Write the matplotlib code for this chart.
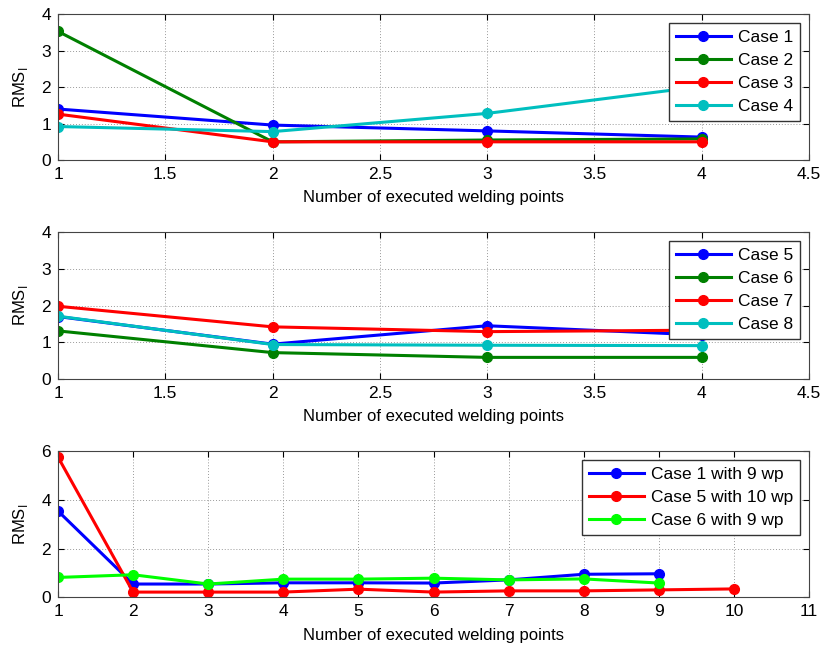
import matplotlib
matplotlib.use("Agg")
from matplotlib import pyplot as plt
from matplotlib.ticker import FuncFormatter

plt.rcParams["font.family"] = ["Liberation Sans", "DejaVu Sans"]
plt.rcParams["mathtext.fontset"] = "custom"
plt.rcParams["mathtext.rm"] = "Liberation Sans"

# panel 1: cases 1-4
x4 = [1, 2, 3, 4]
case1 = [1.40, 0.96, 0.80, 0.63]
case2 = [3.53, 0.50, 0.55, 0.58]
case3 = [1.26, 0.50, 0.50, 0.50]
case4 = [0.92, 0.78, 1.28, 2.02]

# panel 2: cases 5-8
case5 = [1.70, 0.95, 1.45, 1.20]
case6 = [1.31, 0.72, 0.59, 0.59]
case7 = [1.98, 1.42, 1.29, 1.33]
case8 = [1.71, 0.94, 0.92, 0.91]

# panel 3: more welding points
x9 = [1, 2, 3, 4, 5, 6, 7, 8, 9]
x10 = [1, 2, 3, 4, 5, 6, 7, 8, 9, 10]
case1_9wp = [3.54, 0.55, 0.55, 0.60, 0.60, 0.59, 0.72, 0.95, 0.97]
case5_10wp = [5.75, 0.22, 0.22, 0.22, 0.34, 0.22, 0.27, 0.27, 0.31, 0.35]
case6_9wp = [0.82, 0.93, 0.55, 0.75, 0.75, 0.79, 0.72, 0.76, 0.59]

blue = (0, 0, 1)
green = (0, 0.5, 0)
red = (1, 0, 0)
cyan = (0, 0.75, 0.75)
lime = (0, 1, 0)

fig = plt.figure(figsize=(8.23, 6.48), dpi=100)
left, width = 0.0705, 0.9125
ax1 = fig.add_axes([left, 0.753, width, 0.225])
ax2 = fig.add_axes([left, 0.415, width, 0.227])
ax3 = fig.add_axes([left, 0.078, width, 0.226])

style = dict(marker="o", markersize=7, linewidth=2.2)

ax1.plot(x4, case1, color=blue, label="Case 1", **style)
ax1.plot(x4, case2, color=green, label="Case 2", **style)
ax1.plot(x4, case3, color=red, label="Case 3", **style)
ax1.plot(x4, case4, color=cyan, label="Case 4", **style)

ax2.plot(x4, case5, color=blue, label="Case 5", **style)
ax2.plot(x4, case6, color=green, label="Case 6", **style)
ax2.plot(x4, case7, color=red, label="Case 7", **style)
ax2.plot(x4, case8, color=cyan, label="Case 8", **style)

ax3.plot(x9, case1_9wp, color=blue, label="Case 1 with 9 wp", **style)
ax3.plot(x10, case5_10wp, color=red, label="Case 5 with 10 wp", **style)
ax3.plot(x9, case6_9wp, color=lime, label="Case 6 with 9 wp", **style)

fmt = FuncFormatter(lambda v, p: "%g" % v)
for ax in (ax1, ax2):
    ax.set_xlim(1, 4.5)
    ax.set_ylim(0, 4)
    ax.set_xticks([1, 1.5, 2, 2.5, 3, 3.5, 4, 4.5])
    ax.set_yticks([0, 1, 2, 3, 4])
ax3.set_xlim(1, 11)
ax3.set_ylim(0, 6)
ax3.set_xticks(range(1, 12))
ax3.set_yticks([0, 2, 4, 6])

for ax in (ax1, ax2, ax3):
    ax.xaxis.set_major_formatter(fmt)
    ax.grid(True, linestyle=(0, (1, 2)), color="#999999", linewidth=0.7)
    ax.tick_params(direction="in", top=True, right=True, labelsize=12.5,
                   length=4, pad=5)
    for s in ax.spines.values():
        s.set_color("#444444")
        s.set_linewidth(0.8)
    ax.set_xlabel("Number of executed welding points", fontsize=12, labelpad=6)
    ax.set_ylabel(r"RMS$_\mathrm{I}$", fontsize=12, labelpad=8)
    leg = ax.legend(loc="upper right", fontsize=12.5, handlelength=3.2,
                    labelspacing=0.45, borderaxespad=0.5, fancybox=False,
                    framealpha=1, handletextpad=0.4, borderpad=0.4)
    leg.get_frame().set_edgecolor("#333333")
    leg.get_frame().set_linewidth(1.0)

fig.savefig("out.png", dpi=100)
